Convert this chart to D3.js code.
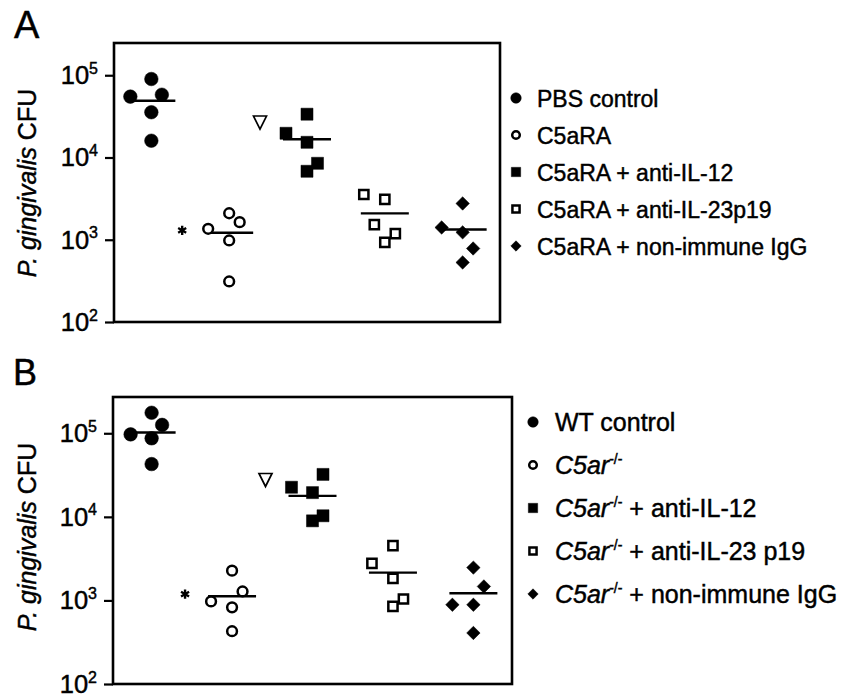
<!DOCTYPE html>
<html>
<head>
<meta charset="utf-8">
<script src="https://cdn.jsdelivr.net/npm/d3@7"></script>
<style>
  body { margin: 0; background: #fff; }
  svg { display: block; font-family: "Liberation Sans", Arial, sans-serif; }
  text { stroke: #000; stroke-width: 0.45px; }
</style>
</head>
<body>
<svg id="chart" width="844" height="699"></svg>
<script>
// ---- data ----
const groups = ["g1", "g2", "g3", "g4", "g5"];
const markers = ["circleFilled", "circleOpen", "squareFilled", "squareOpen", "diamondFilled"];
const tickValues = [1e2, 1e3, 1e4, 1e5];
const tickExponents = ["2", "3", "4", "5"];

const legendA = [
  "PBS control",
  "C5aRA",
  "C5aRA + anti-IL-12",
  "C5aRA + anti-IL-23p19",
  "C5aRA + non-immune IgG",
];
const legendB = [
  { italic: "", sup: "", text: "WT control" },
  { italic: "C5ar", sup: "-/-", text: "" },
  { italic: "C5ar", sup: "-/-", text: " + anti-IL-12" },
  { italic: "C5ar", sup: "-/-", text: " + anti-IL-23 p19" },
  { italic: "C5ar", sup: "-/-", text: " + non-immune IgG" },
];

// column slot of each point inside its group (beeswarm style) and CFU value
const slotsA = [
  [0, -2, 1, 0, 0],
  [-2, 0, 1, 0, 0],
  [0, -2, 0, 1, 0],
  [-2, 0, -1, 1, 0],
  [0, -2, 0, 1, 0],
];
const valuesA = [
  [9.0e4, 5.5e4, 5.8e4, 3.55e4, 1.6e4],
  [1360, 2100, 1635, 980, 311],
  [3.36e4, 1.97e4, 1.53e4, 8.5e3, 6.8e3],
  [3550, 3090, 1530, 1190, 927],
  [2760, 1410, 1230, 783, 530],
];
const centerA = [4.9e4, 1216, 1.67e4, 2090, 1330];

const slotsB = [
  [0, 1, -2, 0, 0],
  [0, 1, -2, 0, 0],
  [1, -2, 0, 1, 0],
  [0, -2, 0, 1, 0],
  [0, 1, -2, 0, 0],
];
const valuesB = [
  [1.76e5, 1.26e5, 9.7e4, 8.7e4, 4.28e4],
  [2270, 1280, 973, 826, 428],
  [3.22e4, 2.26e4, 1.95e4, 1.03e4, 8960],
  [4520, 2780, 1840, 1040, 849],
  [2470, 1470, 887, 887, 408],
];
const centerB = [1.02e5, 1120, 1.78e4, 2150, 1220];

// significance marks: [group index, symbol, value]
const marksA = [[2, "triangle", 2.7e4], [1, "asterisk", 1300]];
const marksB = [[2, "triangle", 2.8e4], [1, "asterisk", 1190]];

// ---- layout ----
const PANELS = [
  {
    letter: "A", letterX: 14, letterY: 38, letterSize: 38,
    frame: { left: 114, right: 500, top: 43, bottom: 322 },
    yTop: 10 ** 5.392, slots: slotsA, values: valuesA, centers: centerA, marks: marksA,
    labelY: 183, legendX: 516, legendTextX: 537, legendY: 98, legendStep: 37, legendSize: 23,
    legend: legendA,
  },
  {
    letter: "B", letterX: 13, letterY: 385, letterSize: 36,
    frame: { left: 113, right: 512, top: 397, bottom: 684 },
    yTop: 10 ** 5.434, slots: slotsB, values: valuesB, centers: centerB, marks: marksB,
    labelY: 537, legendX: 533, legendTextX: 555, legendY: 422, legendStep: 43, legendSize: 25,
    legend: legendB,
  },
];

const SLOT_PX = 10.5;
const LINE_HALF = 24;

const svg = d3.select("#chart");

function markerPath(type, scale) {
  const sizes = { circleFilled: 145, circleOpen: 75, squareFilled: 145, squareOpen: 85, diamondFilled: 90 };
  const shape = type.startsWith("circle") ? d3.symbolCircle : d3.symbolSquare;
  return d3.symbol().type(shape).size(sizes[type] * scale)();
}

function drawMarker(g, type, x, y, scale) {
  const open = type.endsWith("Open");
  g.append("path")
    .attr("d", markerPath(type, scale))
    .attr("transform", `translate(${x},${y})` + (type === "diamondFilled" ? " rotate(45)" : ""))
    .attr("fill", open ? "#fff" : "#000")
    .attr("stroke", "#000")
    .attr("stroke-width", open ? 2.5 : 0.5);
}

function drawPanel(p) {
  const f = p.frame;
  const g = svg.append("g");

  const y = d3.scaleLog().domain([1e2, p.yTop]).range([f.bottom, f.top]);
  const x = d3.scalePoint().domain(groups).range([f.left, f.right]).padding(0.48);

  // ticks
  const axis = d3.axisLeft(y).tickValues(tickValues).tickSize(9).tickSizeOuter(0).tickFormat("");
  const ax = g.append("g").attr("transform", `translate(${f.left},0)`).call(axis);
  ax.select(".domain").remove();
  ax.selectAll(".tick line").attr("stroke", "#000").attr("stroke-width", 2.2);

  tickValues.forEach((v, i) => {
    const t = g.append("text")
      .attr("x", f.left - 16)
      .attr("y", y(v) + 9)
      .attr("text-anchor", "end")
      .attr("font-size", 25.5)
      .attr("fill", "#000");
    t.append("tspan").text("10");
    t.append("tspan").attr("dy", -10.5).attr("font-size", 16).text(tickExponents[i]);
  });

  // frame
  g.append("rect")
    .attr("x", f.left).attr("y", f.top)
    .attr("width", f.right - f.left).attr("height", f.bottom - f.top)
    .attr("fill", "none").attr("stroke", "#000").attr("stroke-width", 2.6);

  // points and centre lines
  groups.forEach((k, gi) => {
    const cx = x(k);
    g.append("line")
      .attr("x1", cx - LINE_HALF).attr("x2", cx + LINE_HALF)
      .attr("y1", y(p.centers[gi])).attr("y2", y(p.centers[gi]))
      .attr("stroke", "#000").attr("stroke-width", 2.4);
    p.values[gi].forEach((v, j) => {
      drawMarker(g, markers[gi], cx + p.slots[gi][j] * SLOT_PX, y(v), 1);
    });
  });

  // significance marks
  p.marks.forEach(([gi, sym, v]) => {
    const mx = x(groups[gi]) - 47;
    const my = y(v);
    if (sym === "triangle") {
      g.append("path")
        .attr("d", `M${mx - 6.5},${my - 6} L${mx + 6.5},${my - 6} L${mx},${my + 7} Z`)
        .attr("fill", "none").attr("stroke", "#000").attr("stroke-width", 1.7);
    } else if (d3.symbolAsterisk) {
      g.append("path")
        .attr("d", d3.symbol().type(d3.symbolAsterisk).size(60)())
        .attr("transform", `translate(${mx},${my})`)
        .attr("fill", "none").attr("stroke", "#000").attr("stroke-width", 2.4);
    } else {
      g.append("path")
        .attr("d", d3.symbol().type(d3.symbolStar).size(55)())
        .attr("transform", `translate(${mx},${my})`)
        .attr("fill", "#000");
    }
  });

  // y label
  const lbl = g.append("text")
    .attr("transform", `translate(36,${p.labelY}) rotate(-90)`)
    .attr("text-anchor", "middle")
    .attr("font-size", 25)
    .attr("fill", "#000");
  lbl.append("tspan").attr("font-style", "italic").text("P. gingivalis");
  lbl.append("tspan").text(" CFU");

  // panel letter
  g.append("text")
    .attr("x", p.letterX).attr("y", p.letterY)
    .attr("font-size", p.letterSize)
    .attr("fill", "#000")
    .text(p.letter);

  // legend
  p.legend.forEach((item, i) => {
    const ly = p.legendY + i * p.legendStep;
    drawMarker(g, markers[i], p.legendX, ly, 0.6);
    const t = g.append("text")
      .attr("x", p.legendTextX)
      .attr("y", ly + 8.5)
      .attr("font-size", p.legendSize)
      .attr("fill", "#000");
    if (typeof item === "string") {
      t.text(item);
    } else {
      if (item.italic) t.append("tspan").attr("font-style", "italic").text(item.italic);
      if (item.sup) t.append("tspan").attr("dy", -10).attr("font-size", 14).text(item.sup);
      if (item.text) t.append("tspan").attr("dy", item.sup ? 10 : 0).text(item.text);
    }
  });
}

PANELS.forEach(drawPanel);
</script>
</body>
</html>
